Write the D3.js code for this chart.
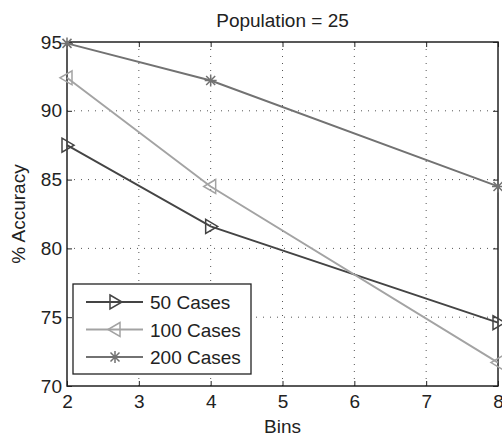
<!DOCTYPE html>
<html>
<head>
<meta charset="utf-8">
<script src="https://cdn.jsdelivr.net/npm/d3@7"></script>
<style>
  body { margin: 0; background: #fff; }
  svg { font-family: "Liberation Sans", Arial, sans-serif; }
</style>
</head>
<body>
<svg id="chart" width="502" height="439"></svg>
<script>
  'use strict';

  var bins = [2, 4, 8];
  var cases50 = [87.5, 81.6, 74.6];
  var cases100 = [92.4, 84.5, 71.7];
  var cases200 = [94.9, 92.2, 84.5];
  var xTicks = [2, 3, 4, 5, 6, 7, 8];
  var yTicks = [70, 75, 80, 85, 90, 95];
  var seriesNames = ['50 Cases', '100 Cases', '200 Cases'];

  var series = [
    { name: seriesNames[0], values: cases50, color: '#444444', marker: 'right' },
    { name: seriesNames[1], values: cases100, color: '#a3a3a3', marker: 'left' },
    { name: seriesNames[2], values: cases200, color: '#727272', marker: 'star' }
  ];

  var margin = { top: 42, right: 4, bottom: 53, left: 67 };
  var width = 502 - margin.left - margin.right;
  var height = 439 - margin.top - margin.bottom;

  var svg = d3.select('#chart');
  var g = svg.append('g').attr('transform', 'translate(' + margin.left + ',' + margin.top + ')');

  var x = d3.scaleLinear().domain([2, 8]).range([0, width]);
  var y = d3.scaleLinear().domain([70, 95]).range([height, 0]);

  // dotted grid
  g.append('g').selectAll('line').data(xTicks.slice(1, -1)).enter().append('line')
    .attr('x1', function(d) { return x(d); }).attr('x2', function(d) { return x(d); })
    .attr('y1', 0).attr('y2', height)
    .attr('stroke', '#555').attr('stroke-width', 1).attr('stroke-dasharray', '1,6');
  g.append('g').selectAll('line').data(yTicks.slice(1, -1)).enter().append('line')
    .attr('y1', function(d) { return y(d); }).attr('y2', function(d) { return y(d); })
    .attr('x1', 0).attr('x2', width)
    .attr('stroke', '#555').attr('stroke-width', 1).attr('stroke-dasharray', '1,6');

  // axes: ticks point inward like matlab
  var xAxis = d3.axisBottom(x).tickValues(xTicks).tickSize(-5).tickPadding(9).tickFormat(d3.format('d'));
  var yAxis = d3.axisLeft(y).tickValues(yTicks).tickSize(-5).tickPadding(5).tickFormat(d3.format('d'));
  var xTop = d3.axisTop(x).tickValues(xTicks).tickSize(-5).tickFormat('');
  var yRight = d3.axisRight(y).tickValues(yTicks).tickSize(-5).tickFormat('');

  function styleAxis(sel) {
    sel.select('.domain').remove();
    sel.selectAll('line').attr('stroke', '#222');
    sel.selectAll('text').attr('fill', '#222').style('font-size', '19px');
  }

  g.append('g').attr('transform', 'translate(0,' + height + ')').call(xAxis).call(styleAxis);
  g.append('g').call(yAxis).call(styleAxis);
  g.append('g').call(xTop).call(styleAxis);
  g.append('g').attr('transform', 'translate(' + width + ',0)').call(yRight).call(styleAxis);

  g.append('rect')
    .attr('width', width).attr('height', height)
    .attr('fill', 'none').attr('stroke', '#222').attr('stroke-width', 1.5);

  // markers
  function drawMarker(sel, type, color) {
    if (type === 'right') {
      sel.append('path').attr('d', 'M-5,-7L7,0L-5,7Z')
        .attr('fill', 'none').attr('stroke', color).attr('stroke-width', 1.5);
    } else if (type === 'left') {
      sel.append('path').attr('d', 'M5,-7L-7,0L5,7Z')
        .attr('fill', 'none').attr('stroke', color).attr('stroke-width', 1.5);
    } else {
      sel.append('path').attr('d', 'M-6,0H6M0,-6V6M-4.5,-4.5L4.5,4.5M-4.5,4.5L4.5,-4.5')
        .attr('fill', 'none').attr('stroke', color).attr('stroke-width', 1.5);
    }
  }

  var line = d3.line()
    .x(function(d, i) { return x(bins[i]); })
    .y(function(d) { return y(d); });

  series.forEach(function(s) {
    g.append('path').datum(s.values)
      .attr('d', line)
      .attr('fill', 'none').attr('stroke', s.color).attr('stroke-width', 1.9);
    s.values.forEach(function(v, i) {
      var m = g.append('g').attr('transform', 'translate(' + x(bins[i]) + ',' + y(v) + ')');
      drawMarker(m, s.marker, s.color);
    });
  });

  // legend
  var legend = g.append('g').attr('transform', 'translate(6,242)');
  legend.append('rect')
    .attr('width', 178).attr('height', 90)
    .attr('fill', '#fff').attr('stroke', '#222').attr('stroke-width', 1.3);
  series.forEach(function(s, i) {
    var row = legend.append('g').attr('transform', 'translate(0,' + (18 + i * 27.5) + ')');
    row.append('line').attr('x1', 13).attr('x2', 70).attr('y1', 0).attr('y2', 0)
      .attr('stroke', s.color).attr('stroke-width', 1.9);
    var m = row.append('g').attr('transform', 'translate(42,0)');
    drawMarker(m, s.marker, s.color);
    row.append('text').attr('x', 77).attr('y', 7)
      .attr('fill', '#222').style('font-size', '19px').text(s.name);
  });

  // title and labels
  svg.append('text')
    .attr('x', margin.left + width / 2).attr('y', 27)
    .attr('text-anchor', 'middle').attr('fill', '#222')
    .style('font-size', '19px').text('Population = 25');

  svg.append('text')
    .attr('x', margin.left + width / 2).attr('y', 433)
    .attr('text-anchor', 'middle').attr('fill', '#222')
    .style('font-size', '19px').text('Bins');

  svg.append('text')
    .attr('transform', 'translate(25,' + (margin.top + height / 2) + ') rotate(-90)')
    .attr('text-anchor', 'middle').attr('fill', '#222')
    .style('font-size', '19px').text('% Accuracy');
</script>
</body>
</html>
